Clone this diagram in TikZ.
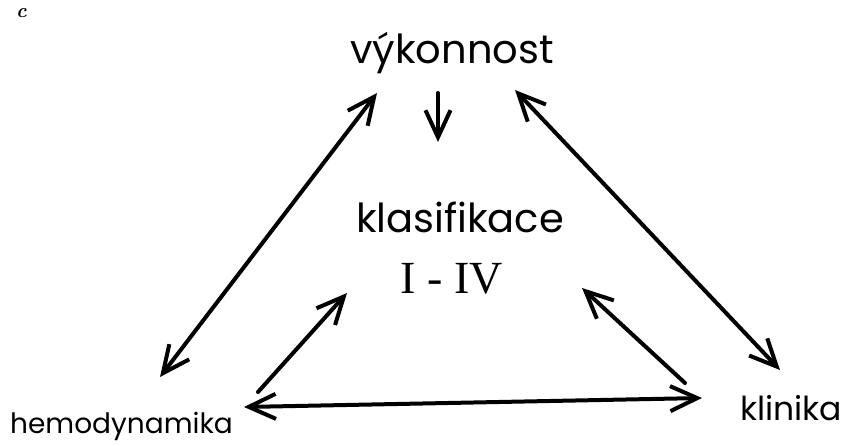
\documentclass[tikz,border=0pt]{standalone}
\usepackage{fontspec}
\setmainfont{Poppins}
\newfontfamily\numfont{Liberation Serif}
\newfontfamily\lmfont{Latin Modern Roman}
\usetikzlibrary{arrows.meta}
\tikzset{
  lbl/.style={inner sep=0pt, font=\fontsize{40}{44}\selectfont},
  conn/.style={line width=4pt, line cap=round, {Straight Barb[length=27pt,width=25pt,line width=4pt]}-{Straight Barb[length=27pt,width=25pt,line width=4pt]}},
  oneway/.style={line width=4pt, line cap=round, -{Straight Barb[length=27pt,width=25pt,line width=4pt]}}
}
\begin{document}
\begin{tikzpicture}[x=1pt,y=-1pt]
\useasboundingbox (0,0) rectangle (850,445);
\node[inner sep=0pt, anchor=base west, font=\lmfont\itshape\bfseries\fontsize{20}{22}\selectfont] (c) at (16,17) {c};
\node[lbl, anchor=base] (vyk) at (452,63) {výkonnost};
\node[lbl, anchor=base] (kla) at (460,232) {klasifikace};
\node[lbl, anchor=base, font=\fontsize{46}{50}\selectfont\numfont] (rom) at (452,293) {I - IV};
\node[lbl, anchor=base west, font=\fontsize{28}{32}\selectfont] (hem) at (10,433) {hemodynamika};
\node[lbl, anchor=base west, font=\fontsize{33}{36}\selectfont] (kli) at (740,420) {klinika};
\coordinate (hv1) at (160,377);
\coordinate (hv2) at (377,93);
\coordinate (vk1) at (515,90);
\coordinate (vk2) at (780,370);
\coordinate (hk1) at (244,407);
\coordinate (hk2) at (702,398);
\coordinate (hc1) at (258,392);
\coordinate (hc2) at (347,293);
\coordinate (kc1) at (685,383);
\coordinate (kc2) at (582,288);
\coordinate (vc1) at (438,93);
\coordinate (vc2) at (438,142);
\draw[conn] (hv1) -- (hv2);
\draw[conn] (vk1) -- (vk2);
\draw[conn] (hk1) -- (hk2);
\draw[oneway] (hc1) -- (hc2);
\draw[oneway] (kc1) -- (kc2);
\draw[oneway] (vc1) -- (vc2);
\end{tikzpicture}
\end{document}
